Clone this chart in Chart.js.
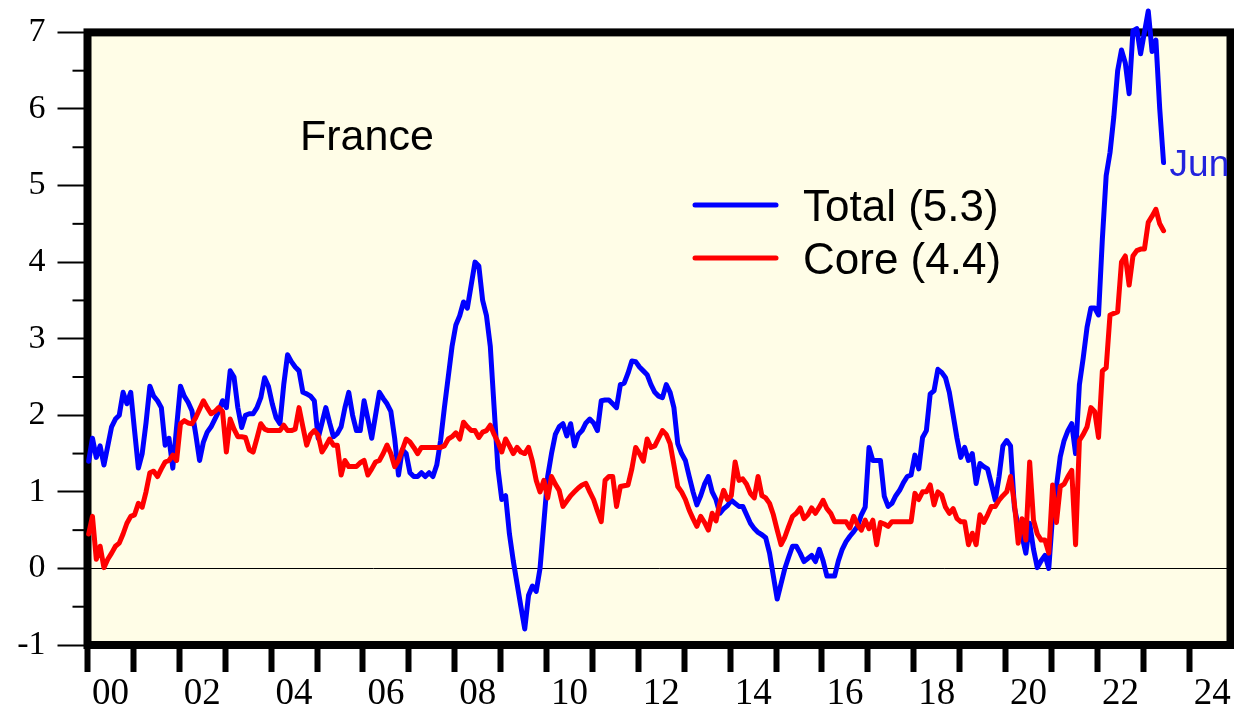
<!DOCTYPE html>
<html>
<head>
<meta charset="utf-8">
<title>France inflation</title>
<script src="https://cdn.jsdelivr.net/npm/chart.js@4.4.1/dist/chart.umd.min.js"></script>
<style>
    html, body { margin: 0; padding: 0; background: #fff; }
    .chart-wrap { position: relative; width: 1234px; height: 706px; }
</style>
</head>
<body>
<div class="chart-wrap"><canvas id="franceChart"></canvas></div>
<script>
// France, % y/y, monthly from Jan 2000 to Jun 2023 (one row per year)
const firstYear = 2000;
const title = 'France';
const lastMonth = 'Jun';
const totalLabel = 'Total (5.3)';
const coreLabel = 'Core (4.4)';

const total = [
    1.4, 1.7, 1.45, 1.6, 1.35, 1.6, 1.85, 1.95, 2.0, 2.3, 2.15, 2.3,
    1.8, 1.31, 1.5, 1.9, 2.38, 2.25, 2.19, 2.1, 1.61, 1.7, 1.31, 1.85,
    2.38, 2.25, 2.17, 2.06, 1.75, 1.41, 1.65, 1.78, 1.85, 1.95, 2.05, 2.19,
    2.1, 2.58, 2.5, 2.1, 1.84, 2.0, 2.02, 2.02, 2.1, 2.23, 2.49, 2.38,
    2.15, 1.97, 1.89, 2.4, 2.79, 2.7, 2.63, 2.58, 2.3, 2.28, 2.25, 2.19,
    1.7, 1.9, 2.1, 1.9, 1.72, 1.76, 1.85, 2.1, 2.3, 2.0, 1.8, 1.8,
    2.19, 1.95, 1.7, 2.0, 2.3, 2.22, 2.15, 2.05, 1.7, 1.22, 1.55, 1.5,
    1.25, 1.2, 1.2, 1.25, 1.2, 1.25, 1.2, 1.35, 1.67, 2.1, 2.5, 2.9,
    3.18, 3.3, 3.48, 3.4, 3.7, 4.0, 3.95, 3.5, 3.3, 2.9, 2.1, 1.3,
    0.9, 0.95, 0.45, 0.1, -0.2, -0.5, -0.79, -0.35, -0.23, -0.3, 0.0, 0.6,
    1.2, 1.5, 1.75, 1.85, 1.89, 1.73, 1.89, 1.6, 1.75, 1.8, 1.9, 1.95,
    1.9, 1.8, 2.19, 2.2, 2.2, 2.15, 2.1, 2.4, 2.42, 2.55, 2.71, 2.7,
    2.63, 2.58, 2.53, 2.4, 2.3, 2.25, 2.23, 2.4, 2.3, 2.1, 1.63, 1.5,
    1.41, 1.2, 1.0, 0.83, 0.95, 1.1, 1.2, 1.0, 0.9, 0.72, 0.78, 0.82,
    0.89, 0.85, 0.81, 0.81, 0.7, 0.59, 0.52, 0.47, 0.44, 0.4, 0.2, -0.1,
    -0.4, -0.2, 0.0, 0.15, 0.29, 0.29, 0.2, 0.09, 0.13, 0.17, 0.09, 0.25,
    0.1, -0.1, -0.1, -0.1, 0.1, 0.25, 0.35, 0.42, 0.48, 0.55, 0.7, 0.8,
    1.58, 1.41, 1.41, 1.41, 0.94, 0.81, 0.85, 0.95, 1.02, 1.12, 1.2, 1.22,
    1.48, 1.3, 1.71, 1.8, 2.28, 2.32, 2.6, 2.56, 2.49, 2.3, 2.0, 1.7,
    1.45, 1.58, 1.41, 1.5, 1.11, 1.37, 1.33, 1.3, 1.1, 0.89, 1.2, 1.6,
    1.67, 1.6, 0.8, 0.55, 0.42, 0.2, 0.59, 0.25, 0.01, 0.1, 0.17, 0.0,
    0.7, 1.07, 1.46, 1.67, 1.8, 1.89, 1.5, 2.4, 2.75, 3.15, 3.4, 3.4,
    3.31, 4.3, 5.13, 5.43, 5.9, 6.5, 6.77, 6.6, 6.2, 7.02, 7.05, 6.72,
    7.0, 7.28, 6.75, 6.9, 6.0, 5.3
];

const core = [
    0.45, 0.68, 0.12, 0.29, 0.01, 0.12, 0.2, 0.29, 0.33, 0.45, 0.59, 0.68,
    0.7, 0.85, 0.8, 1.0, 1.25, 1.27, 1.2, 1.3, 1.39, 1.41, 1.48, 1.41,
    1.89, 1.93, 1.9, 1.89, 1.97, 2.08, 2.19, 2.1, 2.02, 2.05, 2.1, 2.05,
    1.52, 1.95, 1.82, 1.72, 1.72, 1.71, 1.55, 1.52, 1.7, 1.89, 1.82, 1.8,
    1.8, 1.8, 1.8, 1.87, 1.8, 1.8, 1.82, 2.1, 1.85, 1.61, 1.75, 1.8,
    1.74, 1.52, 1.6, 1.69, 1.61, 1.61, 1.22, 1.41, 1.33, 1.33, 1.33, 1.38,
    1.41, 1.22, 1.3, 1.39, 1.41, 1.5, 1.61, 1.5, 1.33, 1.41, 1.55, 1.69,
    1.65, 1.58, 1.5, 1.58, 1.58, 1.58, 1.58, 1.58, 1.58, 1.6, 1.69, 1.72,
    1.77, 1.69, 1.91, 1.85, 1.8, 1.8, 1.71, 1.78, 1.8, 1.87, 1.75, 1.65,
    1.52, 1.69, 1.6, 1.5, 1.58, 1.52, 1.5, 1.58, 1.4, 1.15, 1.0, 1.15,
    0.92, 1.2, 1.1, 1.02, 0.81, 0.88, 0.95, 1.0, 1.05, 1.09, 1.11, 1.0,
    0.9, 0.75, 0.61, 1.15, 1.2, 1.2, 0.81, 1.07, 1.08, 1.09, 1.3, 1.58,
    1.5, 1.4, 1.69, 1.58, 1.6, 1.7, 1.8, 1.75, 1.63, 1.35, 1.07, 1.0,
    0.9, 0.76, 0.65, 0.55, 0.68, 0.6, 0.5, 0.72, 0.62, 0.85, 1.02, 0.9,
    0.95, 1.39, 1.15, 1.17, 1.1, 0.98, 0.92, 1.2, 0.95, 0.92, 0.85, 0.7,
    0.5, 0.31, 0.41, 0.55, 0.68, 0.72, 0.79, 0.65, 0.7, 0.79, 0.72, 0.8,
    0.89, 0.78, 0.72, 0.61, 0.61, 0.61, 0.61, 0.53, 0.68, 0.57, 0.5, 0.63,
    0.52, 0.63, 0.31, 0.6, 0.58, 0.55, 0.61, 0.61, 0.61, 0.61, 0.61, 0.61,
    0.98, 0.9, 1.0, 1.0, 1.09, 0.83, 1.0, 0.96, 0.8, 0.72, 0.78, 0.65,
    0.61, 0.61, 0.31, 0.46, 0.31, 0.7, 0.6, 0.7, 0.81, 0.81, 0.89, 0.95,
    1.0, 1.2, 0.85, 0.33, 0.65, 0.37, 1.39, 0.63, 0.45, 0.37, 0.37, 0.2,
    1.09, 0.6, 1.07, 1.1, 1.2, 1.28, 0.31, 1.67, 1.75, 1.85, 2.1, 2.05,
    1.71, 2.58, 2.62, 3.31, 3.33, 3.35, 4.0, 4.08, 3.7, 4.08, 4.15, 4.17,
    4.17, 4.52, 4.6, 4.69, 4.5, 4.41
];

const yearTicks = [2000, 2001, 2002, 2003, 2004, 2005, 2006, 2007, 2008, 2009, 2010, 2011, 2012,
    2013, 2014, 2015, 2016, 2017, 2018, 2019, 2020, 2021, 2022, 2023, 2024];
const valueTicks = [-1, 0, 1, 2, 3, 4, 5, 6, 7];
const minorTicks = [-0.5, 0.5, 1.5, 2.5, 3.5, 4.5, 5.5, 6.5];

// month index -> decimal year on the x scale
const toPoints = (arr) => arr.map((v, i) => ({ x: firstYear + (i + 0.3) / 12, y: v }));

const plotBg = '#fffde7';

const decorPlugin = {
    id: 'decor',
    beforeDraw(chart) {
        const { ctx, chartArea: a } = chart;
        ctx.save();
        ctx.fillStyle = plotBg;
        ctx.fillRect(a.left, a.top, a.right - a.left, a.bottom - a.top);
        ctx.restore();
    },
    beforeDatasetsDraw(chart) {
        const { ctx, chartArea: a, scales: { y } } = chart;
        ctx.save();
        // minor ticks on the value axis
        ctx.strokeStyle = '#000';
        ctx.lineWidth = 2;
        minorTicks.forEach(v => {
            const py = y.getPixelForValue(v);
            ctx.beginPath();
            ctx.moveTo(a.left - 15, py);
            ctx.lineTo(a.left, py);
            ctx.stroke();
        });
        // heavy frame
        ctx.lineWidth = 8;
        ctx.lineJoin = 'miter';
        ctx.strokeRect(a.left, a.top, a.right - a.left, a.bottom - a.top);
        ctx.restore();
    },
    afterDatasetsDraw(chart) {
        const { ctx } = chart;
        ctx.save();
        ctx.fillStyle = '#000';
        ctx.textBaseline = 'alphabetic';
        ctx.textAlign = 'left';
        ctx.font = '43px "Liberation Sans", Arial, sans-serif';
        ctx.fillText(title, 300, 150);

        // legend
        const items = [
            { label: totalLabel, color: chart.data.datasets[0].borderColor, y: 205 },
            { label: coreLabel, color: chart.data.datasets[1].borderColor, y: 258 }
        ];
        ctx.font = '44px "Liberation Sans", Arial, sans-serif';
        items.forEach(it => {
            ctx.strokeStyle = it.color;
            ctx.lineWidth = 5;
            ctx.lineCap = 'round';
            ctx.beginPath();
            ctx.moveTo(695, it.y);
            ctx.lineTo(776, it.y);
            ctx.stroke();
            ctx.fillStyle = '#000';
            ctx.fillText(it.label, 803, it.y + 16);
        });

        // end label
        const meta = chart.getDatasetMeta(0);
        const last = meta.data[meta.data.length - 1];
        ctx.fillStyle = '#2222dd';
        ctx.font = '37px "Liberation Sans", Arial, sans-serif';
        ctx.fillText(lastMonth, last.x + 6, last.y + 13);
        ctx.restore();
    }
};

new Chart(document.getElementById('franceChart'), {
    type: 'line',
    data: {
        datasets: [
            {
                label: totalLabel,
                data: toPoints(total),
                borderColor: '#0000ff',
                borderWidth: 5,
                pointRadius: 0,
                tension: 0,
                borderJoinStyle: 'round',
                borderCapStyle: 'round',
                clip: false,
                order: 1
            },
            {
                label: coreLabel,
                data: toPoints(core),
                borderColor: '#ff0000',
                borderWidth: 5,
                pointRadius: 0,
                tension: 0,
                borderJoinStyle: 'round',
                borderCapStyle: 'round',
                clip: false,
                order: 0
            }
        ]
    },
    options: {
        responsive: true,
        maintainAspectRatio: false,
        animation: false,
        devicePixelRatio: 1,
        layout: { autoPadding: false, padding: { top: 30, right: 3.5, left: 0, bottom: 0 } },
        plugins: {
            legend: { display: false },
            tooltip: { enabled: false }
        },
        scales: {
            x: {
                type: 'linear',
                min: 2000,
                max: 2024.9,
                afterFit: (s) => { s.height = 61; },
                afterBuildTicks: (s) => { s.ticks = yearTicks.map(v => ({ value: v })); },
                border: { display: false },
                grid: {
                    drawOnChartArea: false,
                    drawTicks: true,
                    tickLength: 27,
                    tickWidth: 6,
                    tickColor: '#000'
                },
                ticks: {
                    autoSkip: false,
                    maxRotation: 0,
                    labelOffset: 23,
                    padding: 0,
                    color: '#000',
                    font: { family: '"Liberation Serif", "Times New Roman", serif', size: 37 },
                    callback: (v) => (v % 2 === 0 ? String(v % 100).padStart(2, '0') : '')
                }
            },
            y: {
                min: -1,
                max: 7,
                afterFit: (s) => { s.width = 87.5; },
                afterBuildTicks: (s) => { s.ticks = valueTicks.map(v => ({ value: v })); },
                border: { display: false },
                grid: {
                    drawOnChartArea: true,
                    color: (c) => (c.tick && c.tick.value === 0 ? '#000' : 'rgba(0,0,0,0)'),
                    lineWidth: 1,
                    drawTicks: true,
                    tickLength: 30,
                    tickWidth: 2,
                    tickColor: '#000'
                },
                ticks: {
                    padding: 12,
                    color: '#000',
                    font: { family: '"Liberation Serif", "Times New Roman", serif', size: 34 },
                    callback: (v) => String(v)
                }
            }
        }
    },
    plugins: [decorPlugin]
});
</script>
</body>
</html>
